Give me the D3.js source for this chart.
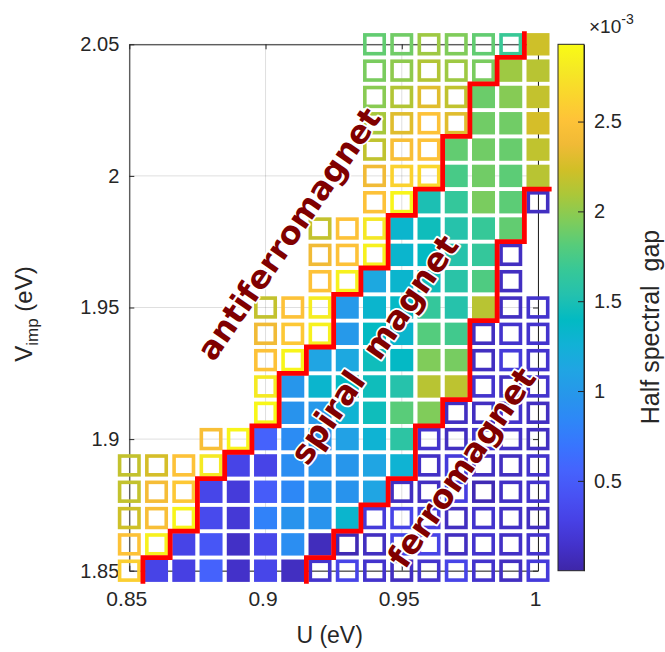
<!DOCTYPE html>
<html>
<head>
<meta charset="utf-8">
<script src="https://cdn.jsdelivr.net/npm/d3@7"></script>
<style>
body { margin: 0; background: #fff; }
svg { display: block; font-family: "Liberation Sans", Arial, sans-serif; }
</style>
</head>
<body>
<svg id="chart" width="665" height="652"></svg>
<script>
// U (eV) columns and V_imp (eV) rows, rows listed top (2.05) to bottom (1.85)
const uVals = [0.85, 0.86, 0.87, 0.88, 0.89, 0.90, 0.91, 0.92, 0.93, 0.94, 0.95, 0.96, 0.97, 0.98, 0.99, 1.00];
const vVals = [2.05, 2.04, 2.03, 2.02, 2.01, 2.00, 1.99, 1.98, 1.97, 1.96, 1.95, 1.94, 1.93, 1.92, 1.91, 1.90, 1.89, 1.88, 1.87, 1.86, 1.85];

// half spectral gap (x 1e-3), null = no point
const n = null;
const gap = [
  [n, n, n, n, n, n, n, n, n, 1.85, 1.90, 2.05, 1.95, 1.85, 1.68, 2.22],
  [n, n, n, n, n, n, n, n, n, 1.93, 2.00, 2.12, 2.05, 1.93, 2.05, 2.14],
  [n, n, n, n, n, n, n, n, n, 1.98, 2.12, 2.30, 2.17, 1.88, 1.97, 2.18],
  [n, n, n, n, n, n, n, n, n, 2.08, 2.30, 2.50, 2.30, 1.90, 1.90, 2.25],
  [n, n, n, n, n, n, n, n, n, 2.17, 2.45, 2.50, 1.85, 1.90, 1.87, 2.17],
  [n, n, n, n, n, n, n, n, n, 2.38, 2.62, 2.66, 1.75, 1.90, 1.83, 2.14],
  [n, n, n, n, n, n, n, n, n, 2.50, 2.88, 1.50, 1.65, 1.93, 1.83, 0.10],
  [n, n, n, n, n, n, n, 2.18, 2.50, 2.78, 1.32, 1.45, 1.55, 1.67, 1.85, n],
  [n, n, n, n, n, n, n, 2.38, 2.50, 2.85, 1.32, 1.40, 1.55, 1.65, 0.10, n],
  [n, n, n, n, n, n, n, 2.50, 2.85, 1.15, 1.32, 1.45, 1.58, 1.78, 0.10, n],
  [n, n, n, n, n, 2.18, 2.50, 2.82, 1.00, 1.32, 1.38, 1.65, 1.55, 2.14, 0.10, 0.15],
  [n, n, n, n, n, 2.38, 2.55, 2.85, 1.00, 1.40, 1.32, 1.80, 1.72, 0.10, 0.15, 0.15],
  [n, n, n, n, n, 2.50, 2.88, 1.12, 1.15, 1.45, 1.38, 1.95, 1.92, 0.10, 0.22, 0.15],
  [n, n, n, n, n, 2.80, 0.98, 1.32, 1.40, 1.45, 1.55, 2.14, 2.16, 0.15, 0.10, 0.15],
  [n, n, n, n, n, 2.90, 0.95, 1.00, 1.28, 1.45, 1.82, 1.95, 0.10, 0.10, 0.15, 0.10],
  [n, n, n, 2.45, 2.88, 0.55, 0.88, 1.00, 1.08, 1.28, 1.60, 0.15, 0.10, 0.15, 0.12, 0.10],
  [2.18, 2.25, 2.50, 2.80, 0.30, 0.30, 0.90, 0.95, 0.98, 1.12, 1.28, 0.12, 0.22, 0.10, 0.10, 0.15],
  [2.18, 2.42, 2.55, 0.32, 0.22, 0.50, 0.85, 0.95, 0.95, 1.12, 0.10, 0.10, 0.25, 0.05, 0.12, 0.15],
  [2.22, 2.45, 2.88, 0.35, 0.20, 0.80, 0.95, 0.95, 1.32, 0.22, 0.30, 0.25, 0.10, 0.15, 0.12, 0.10],
  [2.50, 2.85, 0.30, 0.45, 0.12, 0.33, 0.90, 0.08, 0.05, 0.10, 0.30, 0.30, 0.10, 0.15, 0.12, 0.15],
  [2.60, 0.30, 0.27, 0.55, 0.13, 0.32, 0.10, 0.15, 0.30, 0.15, 0.10, 0.15, 0.30, 0.15, 0.10, 0.22]
];

// first spiral column and first ferromagnet column of each row (16 = none)
const spiralStart = [15, 14, 13, 13, 12, 12, 11, 10, 10, 9, 8, 8, 7, 6, 6, 5, 4, 3, 3, 2, 1];
const ferroStart = [16, 16, 16, 16, 16, 16, 15, 15, 14, 14, 14, 13, 13, 13, 12, 11, 11, 10, 9, 8, 7];

const xTicks = [0.85, 0.9, 0.95, 1];
const yTicks = [1.85, 1.9, 1.95, 2, 2.05];
const cbTicks = [0.5, 1, 1.5, 2, 2.5];
const gapRange = [0, 2.93];

const phaseLabels = [
  {text: 'antiferromagnet', u: 0.9086, v: 1.9779},
  {text: 'spiral  magnet', u: 0.9399, v: 1.9340},
  {text: 'ferromagnet', u: 0.9720, v: 1.8892}
];

// parula colormap
const parula = ['#3e26a8', '#4332cb', '#4741e5', '#4852f4', '#4563fd', '#3875fe', '#2e87f7', '#2796eb',
  '#20a5e3', '#12b1d6', '#02bac3', '#24c1ae', '#37c897', '#57cc7a', '#81cc59', '#abc739',
  '#d1bf27', '#f0ba36', '#fec338', '#fad62d', '#f5e924', '#f9fb15'];

const svg = d3.select('#chart');
const x = d3.scaleLinear().domain([0.85, 1.0]).range([129.3, 538]);
const y = d3.scaleLinear().domain([1.85, 2.05]).range([570.7, 44.3]);

const cmap = d3.scaleLinear()
  .domain(parula.map((c, i) => gapRange[0] + i * (gapRange[1] - gapRange[0]) / (parula.length - 1)))
  .range(parula)
  .clamp(true);

const axisCol = '#262626';
const tickFmt = d => String(+d.toFixed(2));

// grid
const grid = svg.append('g');
grid.selectAll('.gx').data(xTicks).join('line')
  .attr('x1', d => x(d)).attr('x2', d => x(d))
  .attr('y1', y(1.85)).attr('y2', y(2.05));
grid.selectAll('.gy').data(yTicks).join('line')
  .attr('y1', d => y(d)).attr('y2', d => y(d))
  .attr('x1', x(0.85)).attr('x2', x(1.0));
grid.selectAll('line').attr('stroke', axisCol).attr('stroke-opacity', 0.15).attr('stroke-width', 1);

// axes (box)
const styleAxis = (g, fs) => {
  g.attr('font-family', null).attr('font-size', null);
  g.selectAll('path, line').attr('stroke', axisCol);
  g.selectAll('text').attr('fill', '#262626').style('font-size', fs + 'px');
};
svg.append('g').attr('transform', `translate(0,${y(1.85)})`)
  .call(d3.axisBottom(x).tickValues(xTicks).tickSizeInner(-5).tickSizeOuter(0).tickPadding(20).tickFormat(tickFmt))
  .call(styleAxis, 21)
  .selectAll('text').attr('dx', -3);
svg.append('g').attr('transform', `translate(0,${y(2.05)})`)
  .call(d3.axisTop(x).tickValues(xTicks).tickSizeInner(-5).tickSizeOuter(0).tickFormat(() => ''))
  .call(styleAxis, 21);
svg.append('g').attr('transform', `translate(${x(0.85)},0)`)
  .call(d3.axisLeft(y).tickValues(yTicks).tickSizeInner(-5).tickSizeOuter(0).tickPadding(10).tickFormat(tickFmt))
  .call(styleAxis, 20);
svg.append('g').attr('transform', `translate(${x(1.0)},0)`)
  .call(d3.axisRight(y).tickValues(yTicks).tickSizeInner(-5).tickSizeOuter(0).tickFormat(() => ''))
  .call(styleAxis, 20);

// markers
const cells = [];
gap.forEach((row, ri) => row.forEach((g, ci) => {
  if (g === null) return;
  const phase = ci < spiralStart[ri] ? 'afm' : (ci < ferroStart[ri] ? 'spiral' : 'fm');
  cells.push({u: uVals[ci], v: vVals[ri], g, phase});
}));

const mW = 23, mH = 22.4, sw = 3.6;
svg.append('g').selectAll('rect').data(cells).join('rect')
  .attr('x', d => x(d.u) - (d.phase === 'spiral' ? mW : mW - sw) / 2)
  .attr('y', d => y(d.v) - (d.phase === 'spiral' ? mH : mH - sw) / 2)
  .attr('width', d => d.phase === 'spiral' ? mW : mW - sw)
  .attr('height', d => d.phase === 'spiral' ? mH : mH - sw)
  .attr('fill', d => d.phase === 'spiral' ? cmap(d.g) : 'none')
  .attr('stroke', d => d.phase === 'spiral' ? 'none' : cmap(d.g))
  .attr('stroke-width', sw);

// phase boundaries
const du = uVals[1] - uVals[0];
const dv = vVals[0] - vVals[1];
const boundary = starts => {
  const pts = [];
  for (let ri = vVals.length - 1; ri >= 0; ri--) {
    const ue = uVals[0] + (starts[ri] - 0.5) * du;
    const lo = vVals[ri] - dv / 2, hi = vVals[ri] + dv / 2;
    if (starts[ri] >= uVals.length) { pts.push([ue, lo]); break; }
    pts.push([ue, lo], [ue, hi]);
  }
  return pts;
};
const line = d3.line().x(p => x(p[0])).y(p => y(p[1]));
svg.append('g').selectAll('path').data([spiralStart, ferroStart]).join('path')
  .attr('d', d => line(boundary(d)))
  .attr('fill', 'none')
  .attr('stroke', '#ff0000')
  .attr('stroke-width', 4.8)
  .attr('stroke-linejoin', 'miter');

// phase labels
svg.append('g').selectAll('text').data(phaseLabels).join('text')
  .attr('transform', d => `translate(${x(d.u)},${y(d.v)}) rotate(-55.5)`)
  .attr('text-anchor', 'middle')
  .attr('dominant-baseline', 'central')
  .style('font-family', '"DejaVu Sans", sans-serif')
  .style('font-weight', 'bold')
  .style('font-size', d => d.text === 'antiferromagnet' ? '32px' : '33px')
  .style('white-space', 'pre')
  .attr('fill', '#800000')
  .attr('stroke', '#ffffff')
  .attr('stroke-width', 3.5)
  .attr('stroke-linejoin', 'round')
  .attr('paint-order', 'stroke')
  .text(d => d.text);

// axis labels
svg.append('text')
  .attr('x', x(0.925) - 4).attr('y', 643)
  .attr('text-anchor', 'middle')
  .attr('fill', '#262626')
  .style('font-size', '23px')
  .text('U (eV)');

const yl = svg.append('text')
  .attr('transform', 'translate(32,314) rotate(-90)')
  .attr('text-anchor', 'middle')
  .attr('fill', '#262626')
  .style('font-size', '24px');
yl.append('tspan').text('V');
yl.append('tspan').attr('dy', 6).style('font-size', '17px').text('imp');
yl.append('tspan').attr('dy', -6).text('\u00a0(eV)');

// colorbar
const cbX = 558, cbW = 26;
const cb = d3.scaleLinear().domain(gapRange).range([y(1.85), y(2.05)]);
const grad = svg.append('defs').append('linearGradient')
  .attr('id', 'parula').attr('x1', 0).attr('y1', 1).attr('x2', 0).attr('y2', 0);
grad.selectAll('stop').data(parula).join('stop')
  .attr('offset', (c, i) => i / (parula.length - 1))
  .attr('stop-color', c => c);
svg.append('rect')
  .attr('x', cbX).attr('y', cb(gapRange[1]))
  .attr('width', cbW).attr('height', cb(gapRange[0]) - cb(gapRange[1]))
  .attr('fill', 'url(#parula)')
  .attr('stroke', axisCol).attr('stroke-width', 1);
svg.append('g').attr('transform', `translate(${cbX + cbW},0)`)
  .call(d3.axisRight(cb).tickValues(cbTicks).tickSizeInner(-6).tickSizeOuter(0).tickPadding(10).tickFormat(tickFmt))
  .call(styleAxis, 20);

const exp = svg.append('text').attr('x', 589).attr('y', 33).attr('fill', '#262626').style('font-size', '19px');
exp.append('tspan').text('\u00d710');
exp.append('tspan').attr('dy', -9).style('font-size', '14px').text('-3');

svg.append('text')
  .attr('transform', 'translate(659,327) rotate(-90)')
  .attr('text-anchor', 'middle')
  .attr('fill', '#262626')
  .style('font-size', '25px')
  .style('white-space', 'pre')
  .text('Half spectral  gap');
</script>
</body>
</html>
